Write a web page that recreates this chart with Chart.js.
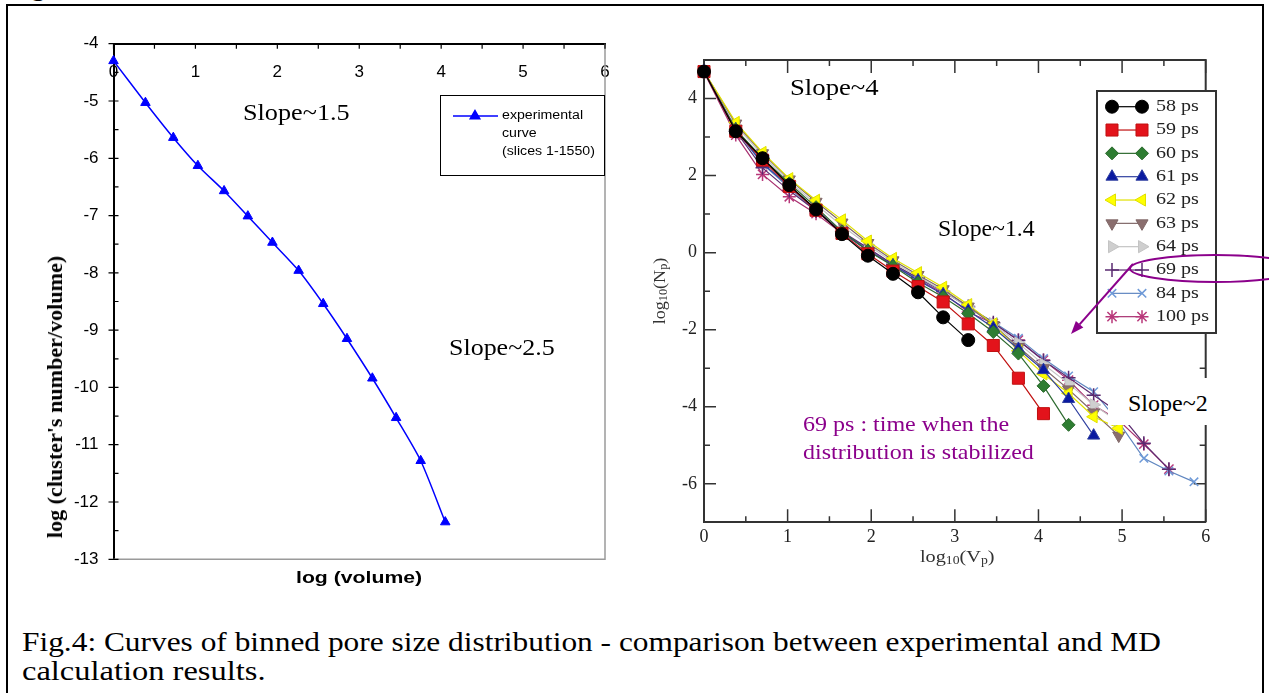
<!DOCTYPE html>
<html>
<head>
<meta charset="utf-8">
<title>Fig.4 binned pore size distribution</title>
<script src="https://cdn.jsdelivr.net/npm/chart.js@4.4.1/dist/chart.umd.min.js"></script>
<style>
  html, body { margin: 0; padding: 0; background: #fff; }
  body { width: 1269px; height: 693px; position: relative; overflow: hidden;
         font-family: "Liberation Serif", "Times New Roman", serif; color: #000; }
  #frame { position: absolute; left: 6px; top: 4px; width: 1254px; height: 760px;
           border: 2px solid #000; border-bottom: 0; }
  canvas { position: absolute; top: 0; }
  .t { position: absolute; white-space: nowrap; line-height: 1; transform-origin: 0 50%; }
  .rot { position: absolute; white-space: nowrap; line-height: 1; transform-origin: 50% 50%; }
  sub { font-size: 0.68em; vertical-align: -0.25em; line-height: 0; }
  svg { position: absolute; left: 0; top: 0; }
</style>
</head>
<body>
<div id="frame"></div>
<div class="t" data-w="37" data-cy="-13" style="left:8px;font-size:25px">Fig</div>

<canvas id="expChart" width="620" height="600" style="left:0"></canvas>
<canvas id="mdChart" width="649" height="600" style="left:620px"></canvas>

<!-- left panel texts -->
<div class="t" data-w="107" data-cy="112" style="left:243px;font-size:24px">Slope~1.5</div>
<div class="t" data-w="106" data-cy="347" style="left:449px;font-size:24px">Slope~2.5</div>
<div class="t" data-w="126" data-cy="578" style="left:296px;font:bold 17px 'Liberation Sans',Arial,sans-serif">log (volume)</div>
<div class="rot" data-len="283" data-cx="55" data-cy="397" style="font-weight:bold;font-size:20px">log (cluster's number/volume)</div>

<!-- right panel texts -->
<div class="t" data-w="89" data-cy="87" style="left:790px;font-size:24px">Slope~4</div>
<div class="t" data-w="97" data-cy="228" style="left:938px;font-size:24px">Slope~1.4</div>
<div style="position:absolute;left:1108px;top:378px;width:112px;height:47px;background:#fff"></div>
<div class="t" data-w="80" data-cy="403" style="left:1128px;font-size:24px">Slope~2</div>
<div class="t" data-w="206" data-cy="424" style="left:803px;font-size:21px;color:#8b008b">69 ps : time when the</div>
<div class="t" data-w="231" data-cy="452" style="left:803px;font-size:21px;color:#8b008b">distribution is stabilized</div>
<div class="t" data-w="75" data-cy="556" style="left:920px;font-size:17px;color:#333">log<sub>10</sub>(V<sub>p</sub>)</div>
<div class="rot" data-len="67" data-cx="659" data-cy="291" style="font-size:17px;color:#333">log<sub>10</sub>(N<sub>p</sub>)</div>

<!-- caption -->
<div class="t" data-w="1139" data-cy="642" style="left:22px;font-size:27px">Fig.4: Curves of binned pore size distribution - comparison between experimental and MD</div>
<div class="t" data-w="243" data-cy="671" style="left:22px;font-size:27px">calculation results.</div>

<svg width="1269" height="693">
  <ellipse cx="1215" cy="268.5" rx="85" ry="13.5" fill="none" stroke="#8b008b" stroke-width="2"/>
  <line x1="1133" y1="264" x2="1079.6" y2="324.3" stroke="#8b008b" stroke-width="2"/>
  <polygon points="1071,334 1083.3,327.6 1075.9,321" fill="#8b008b"/>
</svg>

<script>
// ---------- left panel: experimental curve ----------
const expX = [0, 0.39, 0.73, 1.03, 1.35, 1.64, 1.94, 2.26, 2.56, 2.85, 3.16, 3.45, 3.75, 4.05];
const expY = [-4.30, -5.03, -5.64, -6.13, -6.57, -7.01, -7.47, -7.96, -8.54, -9.15, -9.84, -10.53, -11.28, -12.35];
const expLegend = ['experimental', 'curve', '(slices 1-1550)'];
const expXLabels = [0, 1, 2, 3, 4, 5, 6];
const expYLabels = [-4, -5, -6, -7, -8, -9, -10, -11, -12, -13];

// ---------- right panel: MD results ----------
const mdX = [0, 0.38, 0.70, 1.02, 1.34, 1.65, 1.96, 2.26, 2.56, 2.86, 3.16, 3.46, 3.76, 4.06, 4.36, 4.66, 4.96, 5.26, 5.56, 5.86];
const mdNames = ['58 ps', '59 ps', '60 ps', '61 ps', '62 ps', '63 ps', '64 ps', '69 ps', '84 ps', '100 ps'];
const md58  = [4.70, 3.15, 2.45, 1.75, 1.12, 0.48, -0.08, -0.55, -1.03, -1.68, -2.27];
const md59  = [4.70, 3.15, 2.40, 1.72, 1.10, 0.50, -0.03, -0.48, -0.88, -1.28, -1.85, -2.41, -3.26, -4.18];
const md60  = [4.70, 3.20, 2.45, 1.80, 1.18, 0.55, 0.05, -0.35, -0.78, -1.15, -1.58, -2.06, -2.62, -3.46, -4.47];
const md61  = [4.70, 3.20, 2.32, 1.72, 1.12, 0.52, 0.05, -0.33, -0.72, -1.08, -1.50, -1.95, -2.50, -3.05, -3.80, -4.75];
const md62  = [4.70, 3.38, 2.60, 1.92, 1.36, 0.85, 0.30, -0.15, -0.52, -0.90, -1.35, -1.85, -2.55, -3.15, -3.65, -4.26, -4.56];
const md63  = [4.70, 3.35, 2.58, 1.90, 1.32, 0.78, 0.25, -0.20, -0.58, -0.95, -1.40, -1.88, -2.45, -3.00, -3.55, -4.15, -4.75];
const md64  = [4.70, 3.30, 2.52, 1.85, 1.25, 0.70, 0.20, -0.25, -0.62, -1.00, -1.42, -1.85, -2.35, -2.90, -3.40, -3.95, -4.40];
const md69  = [4.70, 3.15, 2.20, 1.61, 1.08, 0.55, 0.12, -0.30, -0.65, -1.00, -1.40, -1.82, -2.28, -2.80, -3.25, -3.70, -4.15, -4.95, -5.62];
const md84  = [4.70, 3.18, 2.30, 1.68, 1.08, 0.52, 0.10, -0.30, -0.68, -1.00, -1.42, -1.80, -2.22, -2.75, -3.20, -3.61, -4.40, -5.34, -5.67, -5.95];
const md100 = [4.68, 3.05, 2.03, 1.45, 1.01, 0.50, 0.08, -0.32, -0.70, -1.05, -1.54, -1.84, -2.27, -2.79, -3.31, -3.96, -4.35, -4.97, -5.62];
const mdSeries = [md58, md59, md60, md61, md62, md63, md64, md69, md84, md100];
const mdXLabels = [0, 1, 2, 3, 4, 5, 6];
const mdYLabels = [-6, -4, -2, 0, 2, 4];

// marker look of each MD series
const mdStyles = [
  { style: 'circle',   rot: 0,   r: 6.5, fill: '#000000', line: '#000000' },
  { style: 'rect',     rot: 0,   r: 8.5, fill: '#e3131b', line: '#c01010' },
  { style: 'rectRot',  rot: 0,   r: 6.5, fill: '#2e7d32', line: '#2e6b30' },
  { style: 'triangle', rot: 0,   r: 7,   fill: '#0a1aa0', line: '#3040a0' },
  { style: 'triangle', rot: -90, r: 7,   fill: '#ffff00', line: '#e0e000' },
  { style: 'triangle', rot: 180, r: 7,   fill: '#8a6e6e', line: '#806868' },
  { style: 'triangle', rot: 90,  r: 7,   fill: '#cfcfcf', line: '#c4c4c4' },
  { style: 'cross',    rot: 0,   r: 7,   fill: '#5a2a70', line: '#5a2a70' },
  { style: 'crossRot', rot: 0,   r: 6,   fill: '#6f9ad8', line: '#5f86c0' },
  { style: 'star',     rot: 0,   r: 6.5, fill: '#b8387a', line: '#a83070' }
];

// stretch html texts to the widths seen in the picture
document.querySelectorAll('.t').forEach(el => {
  const k = +el.dataset.w / el.offsetWidth;
  el.style.top = el.dataset.cy + 'px';
  el.style.transform = 'translateY(-50%) scaleX(' + k.toFixed(3) + ')';
});
document.querySelectorAll('.rot').forEach(el => {
  const k = +el.dataset.len / el.offsetWidth;
  el.style.left = el.dataset.cx + 'px';
  el.style.top = el.dataset.cy + 'px';
  el.style.transform = 'translate(-50%,-50%) rotate(-90deg) scaleX(' + k.toFixed(3) + ')';
});

function stretchText(ctx, text, x, y, k) {
  ctx.save();
  ctx.translate(x, y);
  ctx.scale(k, 1);
  ctx.fillText(text, 0, 0);
  ctx.restore();
}

// keep the plot box exactly where the padding puts it
function noEdgePadding(s) {
  s.paddingLeft = 0;
  s.paddingRight = 0;
  s.paddingTop = 0;
  s.paddingBottom = 0;
}

const expDeco = {
  id: 'expDeco',
  beforeDatasetsDraw(chart) {
    const { ctx, chartArea: a, scales: { x, y } } = chart;
    ctx.save();
    ctx.strokeStyle = '#9a9a9a';
    ctx.lineWidth = 1.5;
    ctx.beginPath();
    ctx.moveTo(a.right, a.top);
    ctx.lineTo(a.right, a.bottom);
    ctx.lineTo(a.left, a.bottom);
    ctx.stroke();
    ctx.strokeStyle = '#000';
    ctx.lineWidth = 1.2;
    ctx.beginPath();
    y.ticks.forEach(t => {
      const py = y.getPixelForValue(t.value);
      ctx.moveTo(a.left - (Number.isInteger(t.value) ? 5 : 0), py);
      ctx.lineTo(a.left + 5, py);
    });
    x.ticks.forEach(t => {
      const px = x.getPixelForValue(t.value);
      ctx.moveTo(px, a.top);
      ctx.lineTo(px, a.top + 5);
    });
    ctx.stroke();
    ctx.restore();
  },
  afterDraw(chart) {
    const ctx = chart.ctx;
    const ds = chart.data.datasets[0];
    ctx.save();
    ctx.fillStyle = '#fff';
    ctx.fillRect(440, 95, 165, 81);
    ctx.strokeStyle = '#000';
    ctx.lineWidth = 1;
    ctx.strokeRect(440.5, 95.5, 164, 80);
    ctx.strokeStyle = ds.borderColor;
    ctx.lineWidth = 1.5;
    ctx.beginPath();
    ctx.moveTo(453, 116);
    ctx.lineTo(498, 116);
    ctx.stroke();
    ctx.fillStyle = ds.backgroundColor;
    Chart.helpers.drawPoint(ctx, { pointStyle: 'triangle', radius: 5.5, borderWidth: 1 }, 475, 116);
    ctx.fillStyle = '#000';
    ctx.font = '12px "Liberation Sans", Arial, sans-serif';
    ctx.textBaseline = 'middle';
    expLegend.forEach((s, i) => stretchText(ctx, s, 502, 116 + i * 18, 1.18));
    ctx.restore();
  }
};

new Chart(document.getElementById('expChart'), {
  type: 'line',
  data: {
    datasets: [{
      label: expLegend.join(' '),
      data: expX.map((x, i) => ({ x: x, y: expY[i] })),
      borderColor: '#0000ff',
      backgroundColor: '#0000ff',
      borderWidth: 1.5,
      pointStyle: 'triangle',
      pointRadius: 5.5,
      pointBorderWidth: 1,
      tension: 0.25,
      clip: false
    }]
  },
  options: {
    responsive: false,
    animation: false,
    devicePixelRatio: 1,
    layout: { padding: { left: 0, top: 43.7, right: 15, bottom: 40.7 } },
    plugins: { legend: { display: false }, tooltip: { enabled: false } },
    scales: {
      x: {
        type: 'linear', position: 'top', min: 0, max: 6,
        ticks: {
          stepSize: 0.5, mirror: true, padding: 18, color: '#000', autoSkip: false, maxRotation: 0,
          font: { family: '"Liberation Sans", Arial, sans-serif', size: 17 },
          callback: v => expXLabels.includes(v) ? String(v) : ''
        },
        grid: { drawOnChartArea: false, drawTicks: false },
        border: { color: '#000', width: 2 },
        afterFit: s => { s.height = 0; noEdgePadding(s); }
      },
      y: {
        type: 'linear', min: -13, max: -4,
        ticks: {
          stepSize: 0.5, padding: 15, color: '#000', autoSkip: false,
          font: { family: '"Liberation Sans", Arial, sans-serif', size: 17 },
          callback: v => expYLabels.includes(v) ? String(v) : ''
        },
        grid: { drawOnChartArea: false, drawTicks: false },
        border: { color: '#000', width: 2 },
        afterFit: s => { s.width = 113.5; noEdgePadding(s); }
      }
    }
  },
  plugins: [expDeco]
});

const mdDeco = {
  id: 'mdDeco',
  beforeDatasetsDraw(chart) {
    const { ctx, chartArea: a, scales: { x, y } } = chart;
    ctx.save();
    ctx.strokeStyle = '#333';
    ctx.lineWidth = 2;
    ctx.beginPath();
    ctx.moveTo(a.left, a.top);
    ctx.lineTo(a.right, a.top);
    ctx.lineTo(a.right, a.bottom);
    ctx.stroke();
    ctx.lineWidth = 1.5;
    ctx.beginPath();
    x.ticks.forEach(t => {
      const px = x.getPixelForValue(t.value);
      const len = mdXLabels.includes(t.value) ? 13 : 6;
      ctx.moveTo(px, a.bottom); ctx.lineTo(px, a.bottom - len);
      ctx.moveTo(px, a.top); ctx.lineTo(px, a.top + len);
    });
    y.ticks.forEach(t => {
      const py = y.getPixelForValue(t.value);
      const len = mdYLabels.includes(t.value) ? 12 : 6;
      ctx.moveTo(a.left, py); ctx.lineTo(a.left + len, py);
      ctx.moveTo(a.right, py); ctx.lineTo(a.right - len, py);
    });
    ctx.stroke();
    ctx.restore();
  },
  afterDraw(chart) {
    const ctx = chart.ctx;
    ctx.save();
    ctx.fillStyle = '#fff';
    ctx.fillRect(477, 91, 119, 242);
    ctx.strokeStyle = '#333';
    ctx.lineWidth = 2;
    ctx.strokeRect(477, 91, 119, 242);
    ctx.font = '17px "Liberation Serif", "Times New Roman", serif';
    ctx.textBaseline = 'middle';
    chart.data.datasets.forEach((ds, i) => {
      const yy = 106.7 + i * 23.33;
      ctx.strokeStyle = ds.borderColor;
      ctx.lineWidth = 1.2;
      ctx.beginPath();
      ctx.moveTo(492, yy);
      ctx.lineTo(522, yy);
      ctx.stroke();
      [492, 522].forEach(px => {
        ctx.fillStyle = ds.pointBackgroundColor;
        ctx.strokeStyle = ds.pointBorderColor;
        ctx.lineWidth = ds.pointBorderWidth;
        Chart.helpers.drawPoint(ctx, {
          pointStyle: ds.pointStyle, rotation: ds.pointRotation,
          radius: ds.pointRadius, borderWidth: ds.pointBorderWidth
        }, px, yy);
      });
      ctx.fillStyle = '#222';
      stretchText(ctx, ds.label, 536, yy, 1.18);
    });
    ctx.restore();
  }
};

new Chart(document.getElementById('mdChart'), {
  type: 'line',
  data: {
    datasets: mdNames.map((name, i) => {
      const st = mdStyles[i];
      const isLine = st.style === 'cross' || st.style === 'crossRot' || st.style === 'star';
      return {
        label: name,
        data: mdSeries[i].map((v, j) => ({ x: mdX[j], y: v })),
        borderColor: st.line,
        borderWidth: 1.2,
        pointStyle: st.style,
        pointRotation: st.rot,
        pointRadius: st.r,
        pointBackgroundColor: st.fill,
        pointBorderColor: isLine ? st.fill : st.line,
        pointBorderWidth: isLine ? 1.5 : 1,
        tension: 0,
        clip: false
      };
    })
  },
  options: {
    responsive: false,
    animation: false,
    devicePixelRatio: 1,
    layout: { padding: { left: 0, top: 60, right: 63.3, bottom: 0 } },
    plugins: { legend: { display: false }, tooltip: { enabled: false } },
    scales: {
      x: {
        type: 'linear', min: 0, max: 6,
        ticks: {
          stepSize: 0.5, padding: 4, color: '#222', autoSkip: false, maxRotation: 0,
          font: { family: '"Liberation Serif", "Times New Roman", serif', size: 18 },
          callback: v => mdXLabels.includes(v) ? String(v) : ''
        },
        grid: { drawOnChartArea: false, drawTicks: false },
        border: { color: '#333', width: 2 },
        afterFit: s => { s.height = 77.7; noEdgePadding(s); }
      },
      y: {
        type: 'linear', min: -7, max: 5,
        ticks: {
          stepSize: 1, padding: 7, color: '#222', autoSkip: false,
          font: { family: '"Liberation Serif", "Times New Roman", serif', size: 18 },
          callback: v => mdYLabels.includes(v) ? String(v) : ''
        },
        grid: { drawOnChartArea: false, drawTicks: false },
        border: { color: '#333', width: 2 },
        afterFit: s => { s.width = 84; noEdgePadding(s); }
      }
    }
  },
  plugins: [mdDeco]
});
</script>
</body>
</html>
